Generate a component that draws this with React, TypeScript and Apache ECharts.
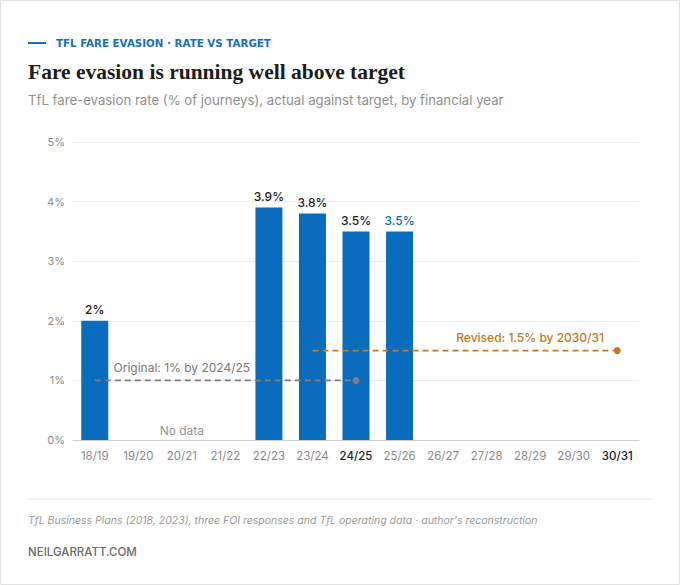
import React, { useEffect, useRef } from "react";
import * as echarts from "echarts";

const categories = ["18/19", "19/20", "20/21", "21/22", "22/23", "23/24", "24/25", "25/26", "26/27", "27/28", "28/29", "29/30", "30/31"];
const actualRate: (number | null)[] = [2, null, null, null, 3.9, 3.8, 3.5, 3.5, null, null, null, null, null];
const originalTarget: (number | null)[] = [1, 1, 1, 1, 1, 1, 1, null, null, null, null, null, null];
const revisedTarget: (number | null)[] = [null, null, null, null, null, 1.5, 1.5, 1.5, 1.5, 1.5, 1.5, 1.5, 1.5];
const highlightYears = ["24/25", "30/31"];
const yTicks = [0, 1, 2, 3, 4, 5];

const BLUE = "#0a6cbc";
const ORANGE = "#c07a22";
const GREY_LINE = "#7d7d7d";
const SANS = "Inter, 'Noto Sans', sans-serif";

export default function App() {
  const ref = useRef<HTMLDivElement>(null);
  useEffect(() => {
    document.body.style.margin = "0";
    const chart = echarts.init(ref.current!, null, { renderer: "svg" });
    const lastIdx = actualRate.length - 1 - [...actualRate].reverse().findIndex((v) => v != null);
    const origLast = originalTarget.lastIndexOf(1);
    const revLast = revisedTarget.length - 1;
    chart.setOption({
      animation: false,
      backgroundColor: "#ffffff",
      textStyle: { fontFamily: SANS },
      grid: { left: 73, right: 41, top: 142, bottom: 145, containLabel: false },
      xAxis: {
        type: "category",
        data: categories,
        axisTick: { show: false },
        axisLine: { lineStyle: { color: "#cfcfcf" } },
        axisLabel: {
          interval: 0,
          margin: 10,
          fontSize: 11.5,
          color: "#8a8a8a",
          fontFamily: SANS,
          formatter: (v: string) => (highlightYears.includes(v) ? `{h|${v}}` : v),
          rich: { h: { color: "#222222", fontWeight: 500, fontSize: 11.5, fontFamily: SANS } },
        },
      },
      yAxis: {
        type: "value",
        min: yTicks[0],
        max: yTicks[yTicks.length - 1],
        interval: 1,
        axisLine: { show: false },
        axisTick: { show: false },
        splitLine: { lineStyle: { color: "#ececec" } },
        axisLabel: { formatter: "{value}%", color: "#8a8a8a", fontSize: 11, margin: 8, fontFamily: SANS },
      },
      series: [
        {
          type: "bar",
          data: actualRate.map((v, i) => ({
            value: v,
            label: { color: i === lastIdx ? BLUE : "#222222" },
          })),
          barWidth: 27,
          itemStyle: { color: BLUE },
          label: {
            show: true,
            position: "top",
            distance: 5,
            fontSize: 12,
            fontWeight: 500,
            fontFamily: SANS,
            formatter: (p: any) => (p.value == null ? "" : `${p.value}%`),
          },
          z: 2,
        },
        {
          type: "line",
          data: originalTarget.map((v, i) => ({
            value: v,
            label: i === 2 ? { show: true, formatter: "Original: 1% by 2024/25", position: "top", distance: 7, color: "#777777", fontSize: 12, fontFamily: SANS } : { show: false },
          })),
          lineStyle: { color: GREY_LINE, type: [6, 4], width: 1.6 },
          itemStyle: { color: GREY_LINE },
          symbol: "circle",
          symbolSize: (_v: any, p: any) => (p.dataIndex === origLast ? 7 : 0),
          showSymbol: true,
          z: 3,
        },
        {
          type: "line",
          data: revisedTarget.map((v, i) => ({
            value: v,
            label: i === 10 ? { show: true, formatter: "Revised: 1.5% by 2030/31", position: "top", distance: 7, color: ORANGE, fontSize: 12, fontWeight: 500, fontFamily: SANS } : { show: false },
          })),
          lineStyle: { color: ORANGE, type: [6, 4], width: 1.6 },
          itemStyle: { color: ORANGE },
          symbol: "circle",
          symbolSize: (_v: any, p: any) => (p.dataIndex === revLast ? 7 : 0),
          showSymbol: true,
          z: 3,
        },
        {
          type: "scatter",
          data: [["20/21", 0]],
          symbolSize: 0,
          label: { show: true, formatter: "No data", position: "top", distance: 4, color: "#777777", fontSize: 12, fontFamily: SANS },
        },
      ],
      graphic: [
        { type: "rect", shape: { x: 0.5, y: 0.5, width: 679, height: 584 }, style: { fill: "none", stroke: "#e2e2e2", lineWidth: 1 }, silent: true },
        { type: "line", shape: { x1: 28, y1: 43, x2: 46, y2: 43 }, style: { stroke: "#1b6fb7", lineWidth: 2 } },
        { type: "text", x: 56, y: 43, style: { text: "TFL FARE EVASION · RATE VS TARGET", fill: "#1b6fb7", font: "bold 10.3px 'DejaVu Sans', sans-serif", textVerticalAlign: "middle" } },
        { type: "text", x: 28, y: 72, style: { text: "Fare evasion is running well above target", fill: "#1c1c1c", font: "bold 21.5px 'Liberation Serif', 'DejaVu Serif', serif", textVerticalAlign: "middle" } },
        { type: "text", x: 28, y: 100, style: { text: "TfL fare-evasion rate (% of journeys), actual against target, by financial year", fill: "#8f8f8f", font: `13.2px ${SANS}`, textVerticalAlign: "middle" } },
        { type: "line", shape: { x1: 28, y1: 499, x2: 652, y2: 499 }, style: { stroke: "#e2e2e2", lineWidth: 1 } },
        { type: "text", x: 28, y: 520, style: { text: "TfL Business Plans (2018, 2023), three FOI responses and TfL operating data · author's reconstruction", fill: "#9a9a9a", font: `italic 10.5px ${SANS}`, textVerticalAlign: "middle" } },
        { type: "text", x: 28, y: 552, style: { text: "NEILGARRATT.COM", fill: "#6a6a6a", font: `500 11.5px ${SANS}`, textVerticalAlign: "middle" } },
      ],
    });
    return () => chart.dispose();
  }, []);
  return <div ref={ref} style={{ position: "fixed", left: 0, top: 0, width: 680, height: 585 }} />;
}
